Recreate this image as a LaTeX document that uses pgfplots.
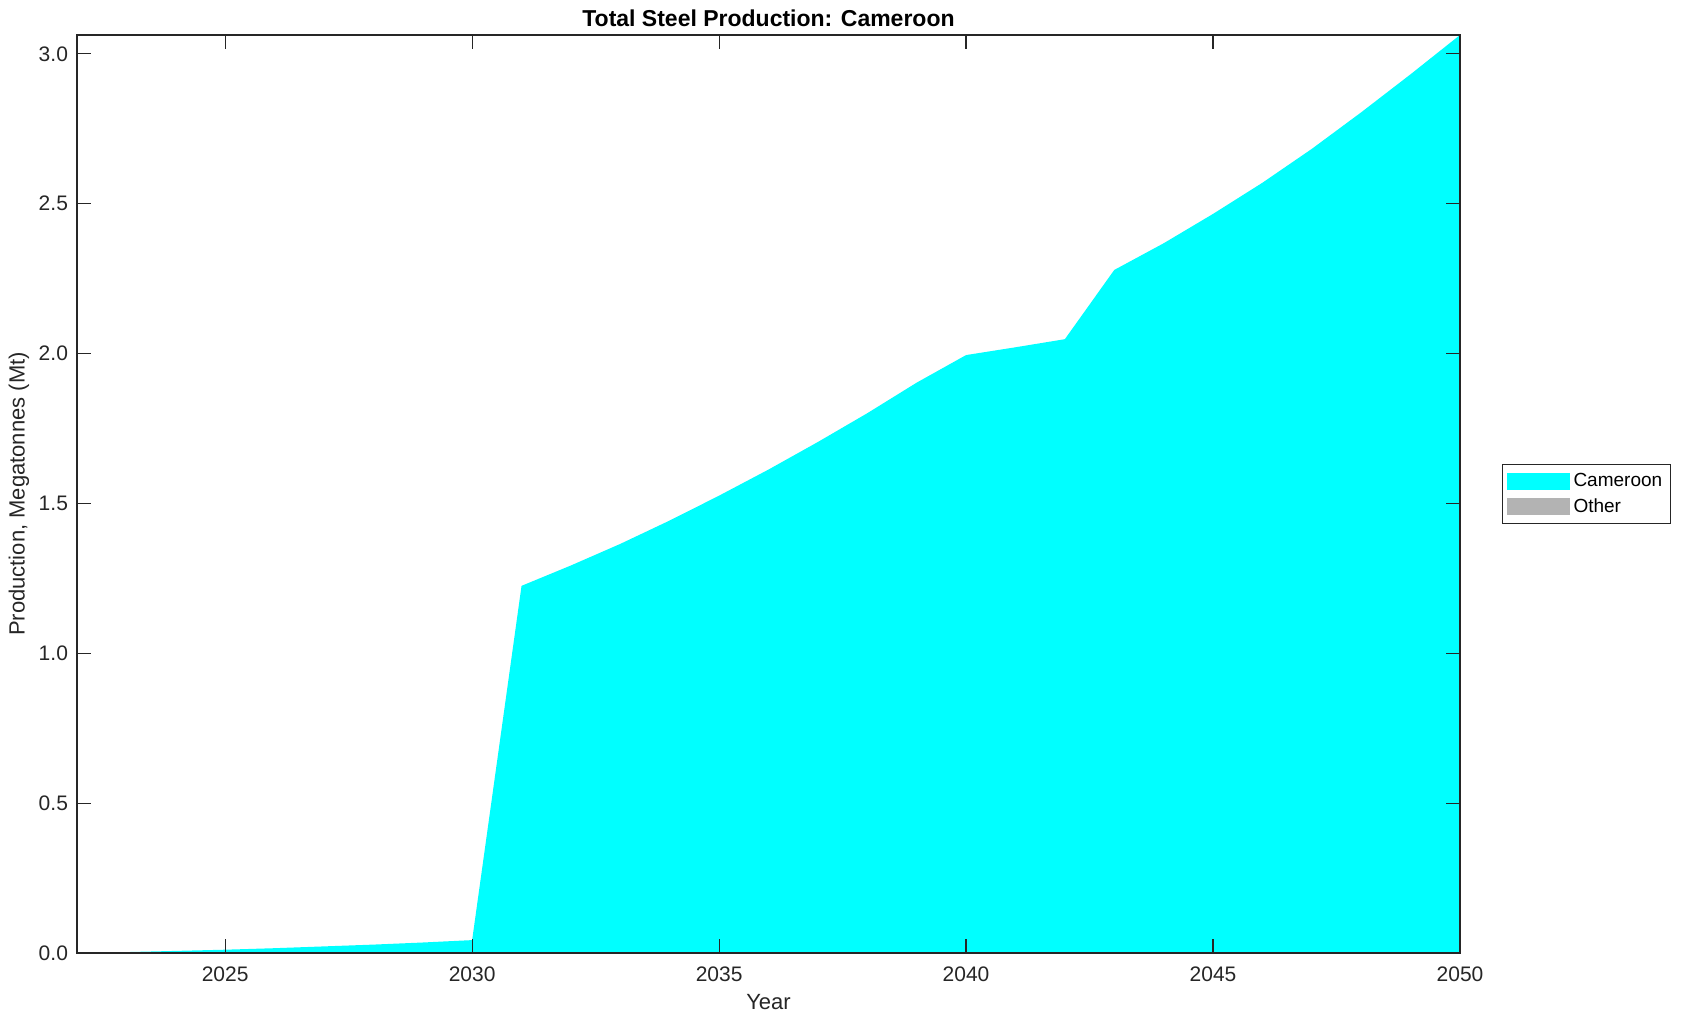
\documentclass[border=0pt]{standalone}
\usepackage{fontspec}
\setmainfont{Liberation Sans}
\usepackage{pgfplots}
\pgfplotsset{compat=1.18}

\definecolor{cameroon}{RGB}{0,255,255}
\definecolor{othergray}{RGB}{179,179,179}
\definecolor{framegray}{RGB}{38,38,38}

\begin{document}
\begin{tikzpicture}
\begin{axis}[
    name=ax,
    scale only axis,
    width=691.5pt,
    height=459pt,
    xmin=2022, xmax=2050,
    ymin=0, ymax=3.063,
    xtick={2025,2030,2035,2040,2045,2050},
    ytick={0,0.5,1,1.5,2,2.5,3},
    tick align=inside,
    major tick length=7pt,
    axis line style={framegray, line width=0.6pt},
    tick style={framegray, line width=0.6pt},
    axis on top,
    /pgf/number format/assume math mode=true,
    x tick label style={/pgf/number format/1000 sep={}, yshift=-3.2pt},
    y tick label style={/pgf/number format/fixed, /pgf/number format/fixed zerofill,
        /pgf/number format/precision=1, xshift=-1pt},
    tick label style={font=\fontsize{10.5}{12}\selectfont, text=framegray},
    title={Total Steel Production: Cameroon},
    title style={font=\fontsize{11.5}{13}\selectfont\bfseries, at={(axis description cs:0.5,1)}, anchor=base, yshift=-1.9pt},
    xlabel={Year},
    ylabel={Production, Megatonnes (Mt)},
    xlabel style={font=\fontsize{11}{13}\selectfont, text=framegray, at={(axis description cs:0.5,-0.0534)}, anchor=center},
    ylabel style={font=\fontsize{11}{13}\selectfont, text=framegray, at={(axis description cs:-0.0419,0.5)}, anchor=center, rotate=0},
    legend style={at={(1,0.5)}, anchor=west, xshift=21pt, draw=framegray, line width=0.5pt,
        font=\fontsize{9.5}{11}\selectfont, row sep=0.5pt, inner xsep=2pt, inner ysep=2pt},
    legend cell align=left,
    legend image code/.code={\fill[#1] (0pt,-4.25pt) rectangle (31.5pt,4.25pt);},
]

% Cameroon production
\addplot[fill=cameroon, draw=none] coordinates {
    (2022,0.000) (2023,0.003) (2024,0.007) (2025,0.011) (2026,0.016)
    (2027,0.022) (2028,0.028) (2029,0.035) (2030,0.043) (2031,1.225)
    (2032,1.293) (2033,1.365) (2034,1.443) (2035,1.526) (2036,1.613)
    (2037,1.705) (2038,1.801) (2039,1.903) (2040,1.995) (2041,2.021)
    (2042,2.048) (2043,2.279) (2044,2.368) (2045,2.466) (2046,2.570)
    (2047,2.683) (2048,2.805) (2049,2.932) (2050,3.063)
} \closedcycle;
\addlegendentry{Cameroon}

% Other (no production)
\addlegendimage{fill=othergray, draw=none}
\addlegendentry{Other}

\end{axis}
\pgfresetboundingbox
\path ([shift={(-38.5pt,-34pt)}]ax.south west) rectangle ([shift={(113pt,17.5pt)}]ax.north east);
\end{tikzpicture}
\end{document}
